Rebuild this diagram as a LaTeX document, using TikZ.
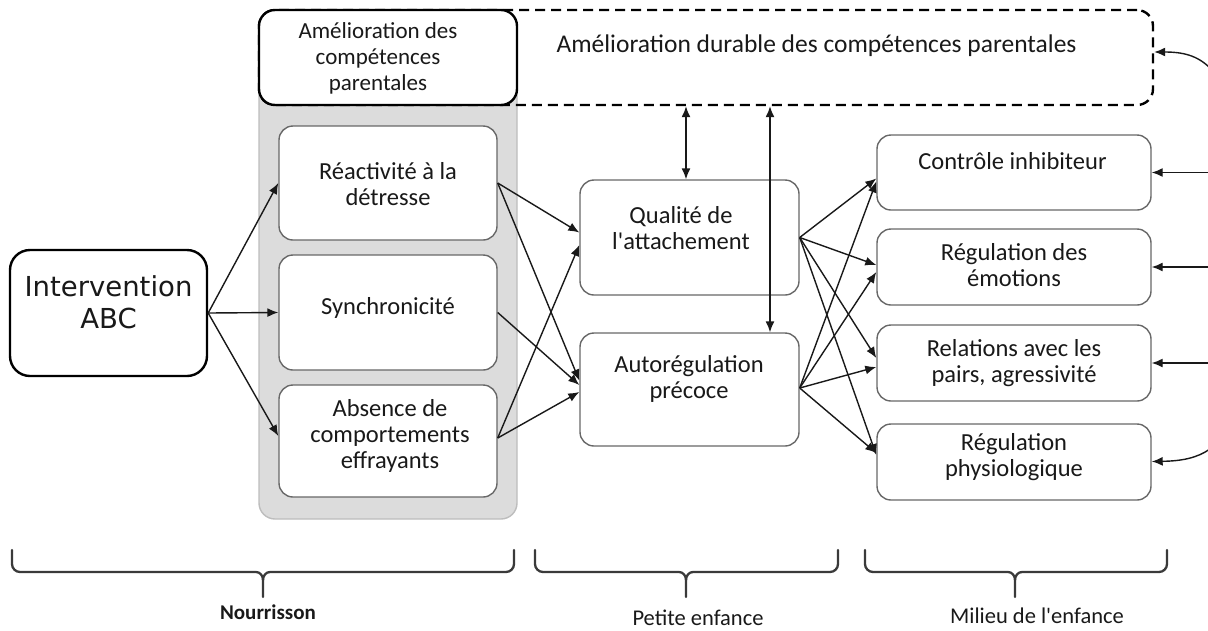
\documentclass[tikz,border=0pt]{standalone}
\usepackage{fontspec}
\setmainfont{Carlito}[Ligatures=TeXOff]
\newfontfamily\dejavu{DejaVu Sans}
\usetikzlibrary{arrows.meta,calc}
\definecolor{boxgrey}{HTML}{686868}
\definecolor{bggrey}{HTML}{DCDCDC}
\definecolor{bgborder}{HTML}{BDBDBD}
\definecolor{bracecol}{HTML}{3A3A3A}
\newcommand\bracebelow[4]{% left, tip, right, name
  \draw[bracepath] (#1,550) -- (#1,564) to[out=-90,in=180] (#1+8,572) -- (#2-7,572)
    to[out=0,in=90] (#2,580) -- (#2,597);
  \draw[bracepath] (#2,580) to[out=90,in=180] (#2+7,572) -- (#3-8,572)
    to[out=0,in=-90] (#3,564) -- (#3,550);
}
\begin{document}
\begin{tikzpicture}[x=1pt,y=-1pt,
  thinbox/.style={draw=boxgrey, line width=1.4pt, rounded corners=14pt, fill=white, inner sep=0pt},
  thickbox/.style={draw=black, line width=2.4pt, rounded corners=16pt, fill=white, inner sep=0pt},
  lbl/.style={align=center, inner sep=0pt, text=black!90, font=\fontsize{24.5}{26}\selectfont},
  toplbl/.style={align=center, inner sep=0pt, text=black!90, font=\fontsize{23}{26}\selectfont},
  bottomlbl/.style={inner sep=0pt, text=black!90, font=\fontsize{22.5}{26}\selectfont},
  arr/.style={line width=1.4pt, draw=black!90, -{Latex[length=11pt,width=9pt]}},
  darr/.style={line width=1.4pt, draw=black!90, {Latex[length=11pt,width=9pt]}-{Latex[length=11pt,width=9pt]}},
  bracepath/.style={line width=2.3pt, draw=bracecol, line cap=round, line join=round},
  dashbox/.style={draw=black, line width=2.4pt, rounded corners=16pt, dash pattern=on 10pt off 6pt, inner sep=0pt}
]
\useasboundingbox (0,0) rectangle (1208,630);

% grey background group
\node[draw=bgborder, fill=bggrey, line width=1.4pt, rounded corners=16pt,
      minimum width=258pt, minimum height=509pt, inner sep=0pt] (grp) at (388,264.5) {};
% dashed box
\node[dashbox, minimum width=894pt, minimum height=95pt] (dash) at (706,57.5) {};
\node[lbl, font=\fontsize{25.5}{27}\selectfont] (tdash) at (816.5,46) {Amélioration durable des compétences parentales};
% top box
\node[thickbox, minimum width=258pt, minimum height=95pt] (top) at (388,57.5) {};
\node[toplbl] (ttop) at (378,58) {Amélioration des\\compétences\\parentales};

% ABC
\node[thickbox, rounded corners=20pt, minimum width=197pt, minimum height=126pt] (abc) at (108.5,313) {};
\node[align=center, inner sep=0pt, text=black!90, font=\dejavu\fontsize{27.5}{32}\selectfont] (tabc) at (108.5,302) {Intervention\\ABC};

% column 2
\node[thinbox, minimum width=218pt, minimum height=114pt] (rea) at (388,183) {};
\node[lbl] (trea) at (388,184.5) {Réactivité à la\\détresse};
\node[thinbox, minimum width=218pt, minimum height=115pt] (syn) at (388,312.5) {};
\node[lbl] (tsyn) at (388,308) {Synchronicité};
\node[thinbox, minimum width=218pt, minimum height=112pt] (abs) at (388,441) {};
\node[lbl] (tabs) at (390,436) {Absence de\\comportements\\effrayants};

% column 3
\node[thinbox, minimum width=219pt, minimum height=115pt] (qua) at (689.5,237.5) {};
\node[lbl] (tqua) at (681,228) {Qualité de\\l'attachement};
\node[thinbox, minimum width=219pt, minimum height=113pt] (aut) at (689.5,389.5) {};
\node[lbl] (taut) at (689,379) {Autorégulation\\précoce};

% column 4
\node[thinbox, minimum width=274pt, minimum height=75pt] (con) at (1014,172.5) {};
\node[lbl] (tcon) at (1012.5,161) {Contrôle inhibiteur};
\node[thinbox, minimum width=274pt, minimum height=76pt] (reg) at (1014,267) {};
\node[lbl] (treg) at (1014,265) {Régulation des\\émotions};
\node[thinbox, minimum width=274pt, minimum height=76pt] (rel) at (1014,363) {};
\node[lbl] (trel) at (1014,363.5) {Relations avec les\\pairs, agressivité};
\node[thinbox, minimum width=274pt, minimum height=76pt] (phy) at (1014,462) {};
\node[lbl] (tphy) at (1014,457.5) {Régulation\\physiologique};

% arrows ABC -> column 2
\draw[arr] (abc.east) -- (rea.west);
\draw[arr] (abc.east) -- (syn.west);
\draw[arr] (abc.east) -- ([yshift=5pt]abs.west);

% column 2 -> column 3
\draw[arr] (rea.east) -- ([yshift=5pt]qua.west);
\draw[arr] (rea.east) -- ([yshift=9pt]aut.west);
\draw[arr] (syn.east) -- ([yshift=4.5pt]aut.west);
\draw[arr] ([yshift=3pt]abs.east) -- ([yshift=-7.5pt]qua.west);
\draw[arr] ([yshift=3pt]abs.east) -- ([yshift=-2.5pt]aut.west);

% column 3 -> column 4
\draw[arr] (qua.east) -- ([yshift=-6pt]con.west);
\draw[arr] (qua.east) -- ([yshift=2pt]reg.west);
\draw[arr] (qua.east) -- ([yshift=5pt]rel.west);
\draw[arr] (qua.east) -- ([yshift=7pt]phy.west);
\draw[arr] ([yshift=1.5pt]aut.east) -- ([yshift=-9pt]con.west);
\draw[arr] ([yshift=1.5pt]aut.east) -- ([yshift=-5pt]reg.west);
\draw[arr] ([yshift=1.5pt]aut.east) -- ([yshift=-4pt]rel.west);
\draw[arr] ([yshift=1.5pt]aut.east) -- ([yshift=9pt]phy.west);

% vertical double arrows
\coordinate (v1) at ([xshift=-3.5pt]qua.north);
\draw[darr] (v1 |- dash.south) -- (v1);
\coordinate (v2) at ([xshift=80.5pt]aut.north);
\draw[darr] (v2 |- dash.south) -- (v2);

% feedback arrows from the right edge
\coordinate (e0) at (1210,68);
\coordinate (e1) at (1210,172.5);
\coordinate (e2) at (1210,267);
\coordinate (e3) at (1210,363);
\coordinate (e4) at (1210,449);
\draw[arr] (e0) .. controls (1197,55) and (1182,52) .. ([yshift=5.5pt]dash.east);
\draw[arr] (e1) -- (con.east);
\draw[arr] (e2) -- (reg.east);
\draw[arr] (e3) -- (rel.east);
\draw[arr] (e4) .. controls (1197,458) and (1182,461) .. ([yshift=0.5pt]phy.east);

% braces
\bracebelow{12}{263}{514}{b1}
\bracebelow{535}{686}{838}{b2}
\bracebelow{865}{1015}{1167}{b3}
\node[bottomlbl, font=\bfseries\fontsize{21}{24}\selectfont] (l1) at (268,612) {Nourrisson};
\node[bottomlbl] (l2) at (698,618) {Petite enfance};
\node[bottomlbl] (l3) at (1037,616) {Milieu de l'enfance};
\end{tikzpicture}
\end{document}
